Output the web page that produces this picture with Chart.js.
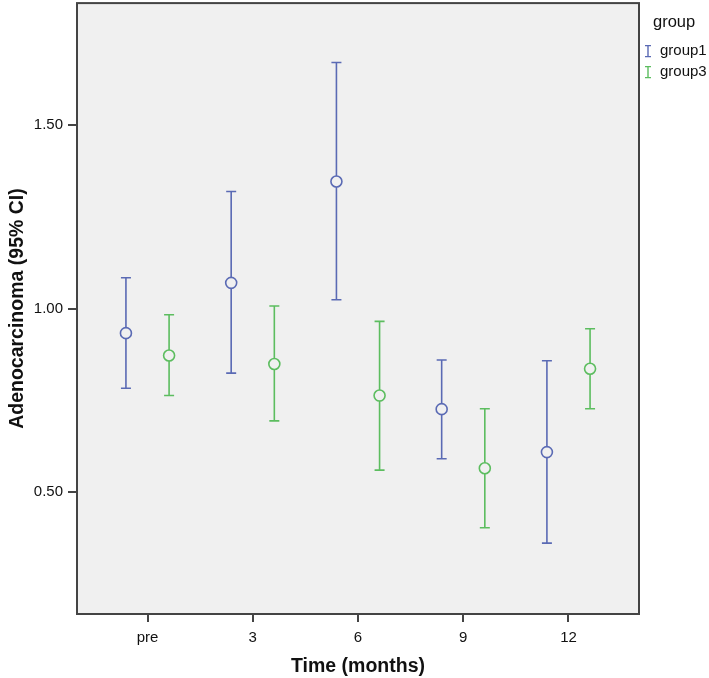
<!DOCTYPE html>
<html>
<head>
<meta charset="utf-8">
<script src="https://cdn.jsdelivr.net/npm/chart.js@4.4.1/dist/chart.umd.min.js"></script>
<style>
  html, body { margin: 0; padding: 0; background: #fff; overflow: hidden; }
  #wrap { width: 709px; height: 678px; overflow: hidden; }
  /* chart.js keeps a few px above the plot; pull the canvas up so the frame sits near the top */
  #chart { display: block; margin-top: -4px; }
</style>
</head>
<body>
<div id="wrap"><canvas id="chart" width="709" height="682"></canvas></div>
<script>
// ---- data ----
const timeLabels = ['pre', '3', '6', '9', '12'];
const yTicks = [0.5, 1.0, 1.5];

const group1Mean = [0.933, 1.070, 1.346, 0.726, 0.609];
const group1Low  = [0.783, 0.824, 1.024, 0.591, 0.361];
const group1High = [1.084, 1.319, 1.670, 0.860, 0.858];

const group3Mean = [0.872, 0.849, 0.763, 0.565, 0.836];
const group3Low  = [0.763, 0.694, 0.560, 0.403, 0.727];
const group3High = [0.983, 1.007, 0.965, 0.727, 0.945];

const colors = {
  group1: '#5a6ab4',
  group3: '#5cbd5f',
  plotBg: '#f0f0f0',
  frame: '#444444',
  text: '#111111'
};

const FONT = "'Liberation Sans', Arial, sans-serif";
const dodge = 0.205;

function points(means, shift) {
  return means.map((v, i) => ({ x: i + shift, y: v }));
}

// background + frame of the plot area
const frameBox = {
  id: 'frameBox',
  beforeDraw(chart) {
    const { ctx, chartArea: a } = chart;
    ctx.save();
    ctx.fillStyle = colors.plotBg;
    ctx.fillRect(a.left, a.top, a.right - a.left, a.bottom - a.top);
    ctx.restore();
  },
  afterDraw(chart) {
    const { ctx, chartArea: a } = chart;
    ctx.save();
    ctx.strokeStyle = colors.frame;
    ctx.lineWidth = 2;
    ctx.strokeRect(a.left, a.top, a.right - a.left, a.bottom - a.top);
    ctx.restore();
  }
};

// 95% CI whiskers drawn through the y scale
const errorBars = {
  id: 'errorBars',
  beforeDatasetsDraw(chart) {
    const { ctx } = chart;
    const yScale = chart.scales.y;
    chart.data.datasets.forEach((ds, i) => {
      const meta = chart.getDatasetMeta(i);
      ctx.save();
      ctx.strokeStyle = ds.borderColor;
      ctx.lineWidth = 1.6;
      meta.data.forEach((pt, j) => {
        const yLo = yScale.getPixelForValue(ds.ciLow[j]);
        const yHi = yScale.getPixelForValue(ds.ciHigh[j]);
        ctx.beginPath();
        ctx.moveTo(pt.x, yLo);
        ctx.lineTo(pt.x, yHi);
        ctx.moveTo(pt.x - 5, yLo);
        ctx.lineTo(pt.x + 5, yLo);
        ctx.moveTo(pt.x - 5, yHi);
        ctx.lineTo(pt.x + 5, yHi);
        ctx.stroke();
      });
      ctx.restore();
    });
  }
};

// SPSS-style legend on the right
const sideLegend = {
  id: 'sideLegend',
  afterDraw(chart) {
    const { ctx } = chart;
    const top = chart.chartArea.top;
    ctx.save();
    ctx.fillStyle = colors.text;
    ctx.textBaseline = 'middle';
    ctx.font = '16.5px ' + FONT;
    ctx.fillText('group', 653, top + 19);
    ctx.font = '15px ' + FONT;
    chart.data.datasets.forEach((ds, i) => {
      const y = top + 48 + i * 21;
      ctx.strokeStyle = ds.borderColor;
      ctx.lineWidth = 1.4;
      ctx.beginPath();
      ctx.moveTo(648, y - 5.5); ctx.lineTo(648, y + 5.5);
      ctx.moveTo(645, y - 5.5); ctx.lineTo(651, y - 5.5);
      ctx.moveTo(645, y + 5.5); ctx.lineTo(651, y + 5.5);
      ctx.stroke();
      ctx.fillStyle = colors.text;
      ctx.fillText(ds.label, 660, y);
    });
    ctx.restore();
  }
};

new Chart(document.getElementById('chart'), {
  type: 'scatter',
  data: {
    datasets: [
      {
        label: 'group1',
        data: points(group1Mean, -dodge),
        ciLow: group1Low,
        ciHigh: group1High,
        borderColor: colors.group1,
        backgroundColor: colors.plotBg,
        pointRadius: 5.5,
        pointBorderWidth: 1.6
      },
      {
        label: 'group3',
        data: points(group3Mean, dodge),
        ciLow: group3Low,
        ciHigh: group3High,
        borderColor: colors.group3,
        backgroundColor: colors.plotBg,
        pointRadius: 5.5,
        pointBorderWidth: 1.6
      }
    ]
  },
  options: {
    responsive: false,
    animation: false,
    layout: { padding: { top: 0, right: 70, left: 0, bottom: 0 } },
    plugins: {
      legend: { display: false },
      tooltip: { enabled: false }
    },
    scales: {
      x: {
        type: 'linear',
        min: -0.67,
        max: 4.67,
        afterBuildTicks: (scale) => {
          scale.ticks = timeLabels.map((_, i) => ({ value: i }));
        },
        afterFit: (scale) => {
          scale.height = 64;
          scale.paddingLeft = 0;
          scale.paddingRight = 0;
        },
        grid: {
          drawOnChartArea: false,
          drawTicks: true,
          tickLength: 8,
          color: colors.frame,
          lineWidth: 2
        },
        border: { display: false },
        ticks: {
          color: colors.text,
          font: { family: FONT, size: 15 },
          padding: 7,
          callback: (v) => timeLabels[v]
        },
        title: {
          display: true,
          text: 'Time (months)',
          color: colors.text,
          font: { family: FONT, size: 19.5, weight: 'bold' },
          padding: { top: 2, bottom: 0 }
        }
      },
      y: {
        type: 'linear',
        min: 0.168,
        max: 1.832,
        afterBuildTicks: (scale) => {
          scale.ticks = yTicks.map((v) => ({ value: v }));
        },
        afterFit: (scale) => {
          scale.width = 77;
          scale.paddingTop = 0;
          scale.paddingBottom = 0;
        },
        grid: {
          drawOnChartArea: false,
          drawTicks: true,
          tickLength: 9,
          color: colors.frame,
          lineWidth: 2
        },
        border: { display: false },
        ticks: {
          color: colors.text,
          font: { family: FONT, size: 15 },
          padding: 5,
          callback: (v) => v.toFixed(2)
        },
        title: {
          display: true,
          text: 'Adenocarcinoma (95% CI)',
          color: colors.text,
          font: { family: FONT, size: 19.5, weight: 'bold' },
          padding: { top: 6, bottom: 0 }
        }
      }
    }
  },
  plugins: [frameBox, errorBars, sideLegend]
});
</script>
</body>
</html>
